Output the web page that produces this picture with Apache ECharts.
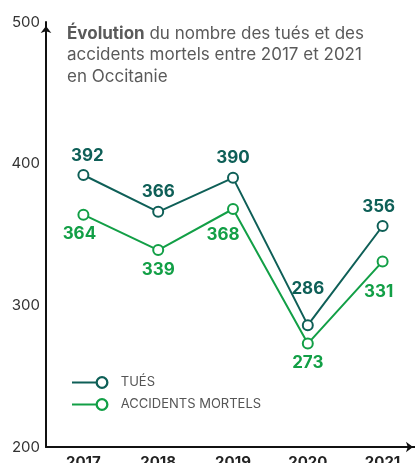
<!DOCTYPE html>
<html>
<head>
<meta charset="utf-8">
<script src="https://cdn.jsdelivr.net/npm/echarts@6/dist/echarts.min.js"></script>
<style>
  html, body { margin: 0; padding: 0; background: #fff; }
  #chart { width: 415px; height: 463px; }
</style>
</head>
<body>
<div id="chart"></div>
<script>
var years = ["2017", "2018", "2019", "2020", "2021"];
var tues = [392, 366, 390, 286, 356];
var accidents = [364, 339, 368, 273, 331];
var yTicks = [200, 300, 400, 500];

// petits decalages des etiquettes pour coller au visuel
var nudgeTues = [[4, 0], [0, 0], [0, 0], [0, -17], [-4, 0]];
var nudgeAcc = [[-4, 0], [0, 0], [-10, 6], [0, 0], [-4, 11]];

var teal = "#0e5f57";
var green = "#129f46";
var fontName = "Inter, 'Open Sans', sans-serif";

// icone de legende : trait + cercle vide a droite
var legendIcon = "path://M0 5.5H24V7.5H0Z M23.5 6.5A6.5 6.5 0 1 1 36.5 6.5A6.5 6.5 0 1 1 23.5 6.5Z M25.8 6.5A4.2 4.2 0 1 0 34.2 6.5A4.2 4.2 0 1 0 25.8 6.5Z";

function buildData(values, nudge) {
    var res = [];
    for (var i = 0; i < values.length; i++) {
        res.push({ value: values[i], label: { offset: nudge[i] } });
    }
    return res;
}

var myChart = echarts.init(document.getElementById("chart"));
var option = {
    backgroundColor: "#fff",
    animation: false,
    textStyle: { fontFamily: fontName },
    title: {
        text: "{b|Évolution} du nombre des tués et des\naccidents mortels entre 2017 et 2021\nen Occitanie",
        left: 62,
        top: 18,
        textStyle: {
            fontFamily: fontName,
            fontSize: 17,
            fontWeight: "normal",
            color: "#5a5a5a",
            lineHeight: 21.5,
            rich: {
                b: { fontFamily: fontName, fontSize: 17, fontWeight: "bold", color: "#5a5a5a", lineHeight: 21.5 }
            }
        }
    },
    legend: {
        orient: "vertical",
        left: 67,
        top: 371,
        itemWidth: 37,
        itemHeight: 13,
        itemGap: 9,
        icon: legendIcon,
        itemStyle: { borderWidth: 0 },
        textStyle: { fontFamily: fontName, fontSize: 13, color: "#555", padding: [0, 0, 0, 7] },
        data: ["TUÉS", "ACCIDENTS MORTELS"]
    },
    grid: { left: 46, right: -5, top: 22, bottom: 16, outerBoundsMode: "none" },
    xAxis: {
        type: "category",
        data: years,
        boundaryGap: true,
        axisLine: {
            show: true,
            lineStyle: { color: "#111", width: 2 },
            symbol: ["none", "arrow"],
            symbolSize: [8, 7],
            symbolOffset: [0, -7]
        },
        axisTick: { show: false },
        axisLabel: { margin: 8, fontFamily: fontName, fontSize: 15, fontWeight: "bold", color: "#222" }
    },
    yAxis: {
        type: "value",
        min: yTicks[0],
        max: yTicks[yTicks.length - 1],
        interval: yTicks[1] - yTicks[0],
        splitLine: { show: false },
        axisTick: { show: false },
        axisLine: {
            show: true,
            lineStyle: { color: "#111", width: 2 },
            symbol: ["none", "arrow"],
            symbolSize: [8, 7],
            symbolOffset: [0, -4]
        },
        axisLabel: { margin: 6, fontFamily: fontName, fontSize: 15, color: "#333" }
    },
    series: [
        {
            name: "ACCIDENTS MORTELS",
            type: "line",
            data: buildData(accidents, nudgeAcc),
            symbol: "emptyCircle",
            symbolSize: 10,
            color: green,
            lineStyle: { width: 2, color: green },
            itemStyle: { color: green, borderWidth: 2 },
            label: {
                show: true,
                position: "bottom",
                distance: 5,
                fontFamily: fontName,
                fontSize: 17,
                fontWeight: "bold",
                color: green
            },
            z: 2
        },
        {
            name: "TUÉS",
            type: "line",
            data: buildData(tues, nudgeTues),
            symbol: "emptyCircle",
            symbolSize: 10,
            color: teal,
            lineStyle: { width: 2, color: teal },
            itemStyle: { color: teal, borderWidth: 2 },
            label: {
                show: true,
                position: "top",
                distance: 5,
                fontFamily: fontName,
                fontSize: 17,
                fontWeight: "bold",
                color: teal
            },
            z: 3
        }
    ]
};
myChart.setOption(option);
window.onresize = myChart.resize;
</script>
</body>
</html>
